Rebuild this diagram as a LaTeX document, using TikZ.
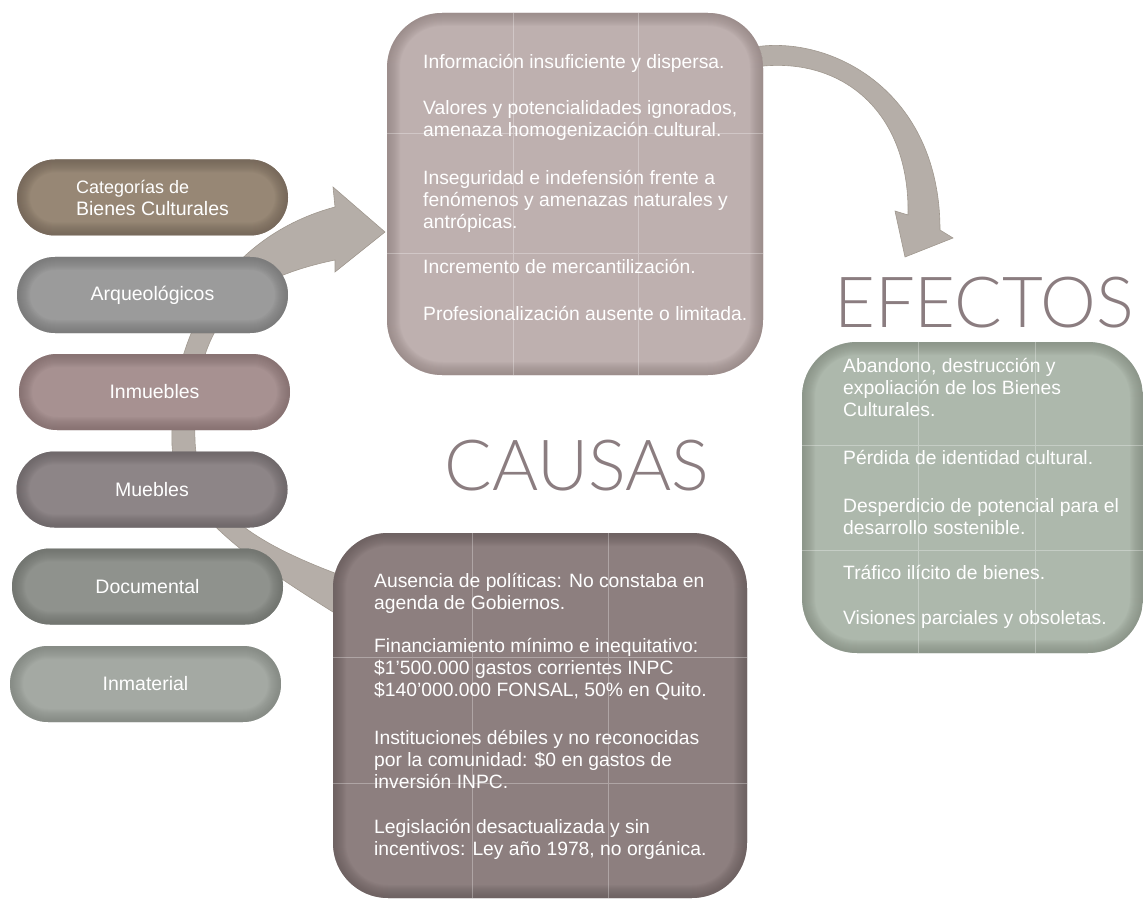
\documentclass[tikz,border=0pt]{standalone}
\usepackage{fontspec}
\setmainfont{Liberation Sans}
\newfontfamily\titlefont{Lato Light}
\usepackage{xcolor}
\definecolor{CatBrown}{HTML}{978775}
\definecolor{CatBrownDark}{HTML}{6E6054}
\definecolor{ArqGray}{HTML}{9B9B9B}
\definecolor{ArqGrayDark}{HTML}{727272}
\definecolor{InmRose}{HTML}{A79191}
\definecolor{InmRoseDark}{HTML}{7F6A6A}
\definecolor{MueGray}{HTML}{8D8587}
\definecolor{MueGrayDark}{HTML}{666062}
\definecolor{DocGreen}{HTML}{8F928D}
\definecolor{DocGreenDark}{HTML}{6A6D68}
\definecolor{InmaGreen}{HTML}{A4A9A3}
\definecolor{InmaGreenDark}{HTML}{7E837D}
\definecolor{CausaLight}{HTML}{BEB0AF}
\definecolor{CausaLightDark}{HTML}{928381}
\definecolor{CausaDark}{HTML}{8D7F7F}
\definecolor{CausaDarkEdge}{HTML}{665A5A}
\definecolor{EfectoGreen}{HTML}{ADB8AC}
\definecolor{EfectoGreenDark}{HTML}{838C80}
\definecolor{TitleGray}{HTML}{8B7D80}
\definecolor{ArrowGray}{HTML}{B5AEA8}
\definecolor{ArrowEdge}{HTML}{A0988F}
\usetikzlibrary{positioning}

\tikzset{
    glossy/.style n args={3}{fill=#1, path picture={
        \foreach \w in {2,4,...,26}
            \draw[#2, line width=\w pt, opacity=.08, rounded corners=#3]
                (path picture bounding box.south west) rectangle (path picture bounding box.north east);
    }},
    pill/.style={rectangle, rounded corners=38pt, minimum width=271pt, minimum height=76pt,
        inner sep=0pt, text=white, align=center, font=\fontsize{19.5}{22}\selectfont},
    bigbox/.style={rectangle, rounded corners=55pt, inner sep=0pt},
    boxtext/.style={anchor=north west, inner sep=0pt, align=left, text=white,
        font=\fontsize{19.3}{22}\selectfont},
    gridline/.style={white, opacity=.3, line width=.6pt},
    title/.style={inner sep=0pt, text=TitleGray, font=\titlefont\fontsize{70.5}{70.5}\selectfont},
    arrowband/.style={fill=ArrowGray, draw=ArrowEdge, line width=0.6pt}
}

\begin{document}
\begin{tikzpicture}[x=1pt, y=-1pt]
        \useasboundingbox (0,0) rectangle (1143,901);

        % curved arrows
        \filldraw[arrowband] (333,612) .. controls (250,560) and (175,510) .. (172,445)
            .. controls (168,330) and (230,235) .. (335,207) -- (333,187) -- (385,232) -- (335,272) -- (335,260)
            .. controls (240,280) and (192,320) .. (195,440)
            .. controls (197,510) and (260,545) .. (340,575) -- cycle;
        \filldraw[arrowband] (755,47) .. controls (830,35) and (940,90) .. (940,230)
            -- (953,238) -- (905,257) -- (895,211) -- (908,215)
            .. controls (910,110) and (840,55) .. (755,67) -- cycle;

        % categories
        \node[pill, align=left, glossy={CatBrown}{CatBrownDark}{38pt}] (cat) at (152.5,197.5)
            {\fontsize{18}{22}\selectfont Categorías de\\Bienes Culturales};
        \node[pill, glossy={ArqGray}{ArqGrayDark}{38pt}] (arq) at (152.5,295) {Arqueológicos};
        \node[pill, glossy={InmRose}{InmRoseDark}{38pt}] (inm) at (154.5,392) {Inmuebles};
        \node[pill, glossy={MueGray}{MueGrayDark}{38pt}] (mue) at (152,489.5) {Muebles};
        \node[pill, glossy={DocGreen}{DocGreenDark}{38pt}] (doc) at (147.5,586.5) {Documental};
        \node[pill, glossy={InmaGreen}{InmaGreenDark}{38pt}] (inma) at (145.5,684) {Inmaterial};

        % boxes
        \node[bigbox, minimum width=376pt, minimum height=362pt,
            glossy={CausaLight}{CausaLightDark}{55pt}] (causa1) at (575,194) {};
        \node[bigbox, minimum width=414pt, minimum height=365pt,
            glossy={CausaDark}{CausaDarkEdge}{55pt}] (causa2) at (540,715.5) {};
        \node[bigbox, minimum width=341pt, minimum height=311pt,
            glossy={EfectoGreen}{EfectoGreenDark}{55pt}] (efecto) at (972.5,497.5) {};

        \begin{scope}
            \clip[rounded corners=55pt] (causa1.south west) rectangle (causa1.north east);
            \draw[gridline] (513,13) -- (513,375) (638,13) -- (638,375) (387,133) -- (763,133) (387,253) -- (763,253);
        \end{scope}
        \begin{scope}
            \clip[rounded corners=55pt] (causa2.south west) rectangle (causa2.north east);
            \draw[gridline] (472,533) -- (472,898) (608,533) -- (608,898) (333,657) -- (747,657) (333,783) -- (747,783);
        \end{scope}
        \begin{scope}
            \clip[rounded corners=55pt] (efecto.south west) rectangle (efecto.north east);
            \draw[gridline] (918,342) -- (918,653) (1035,342) -- (1035,653) (802,445) -- (1143,445) (802,550) -- (1143,550);
        \end{scope}

        \node[boxtext] (causa1text) at (423,54) {Información insuficiente y dispersa.\\[24pt]
            Valores y potencialidades ignorados,\\ amenaza homogenización cultural.\\[26pt]
            Inseguridad e indefensión frente a\\ fenómenos y amenazas naturales y\\ antrópicas.\\[23pt]
            Incremento de mercantilización.\\[25pt]
            Profesionalización ausente o limitada.};
        \node[boxtext] (causa2text) at (374,573) {Ausencia de políticas: No constaba en\\ agenda de Gobiernos.\\[21pt]
            Financiamiento mínimo e inequitativo:\\ \$1’500.000 gastos corrientes INPC\\ \$140’000.000 FONSAL, 50\% en Quito.\\[26pt]
            Instituciones débiles y no reconocidas\\ por la comunidad: \$0 en gastos de\\ inversión INPC.\\[23pt]
            Legislación desactualizada y sin\\ incentivos: Ley año 1978, no orgánica.};
        \node[boxtext] (efectotext) at (843,358) {Abandono, destrucción y\\ expoliación de los Bienes\\ Culturales.\\[26pt]
            Pérdida de identidad cultural.\\[26pt]
            Desperdicio de potencial para el\\ desarrollo sostenible.\\[23pt]
            Tráfico ilícito de bienes.\\[23pt]
            Visiones parciales y obsoletas.};

        \node[title] (causas) at (577,466) {CAUSAS};
        \node[title] (efectos) at (984,303) {EFECTOS};
\end{tikzpicture}
\end{document}
